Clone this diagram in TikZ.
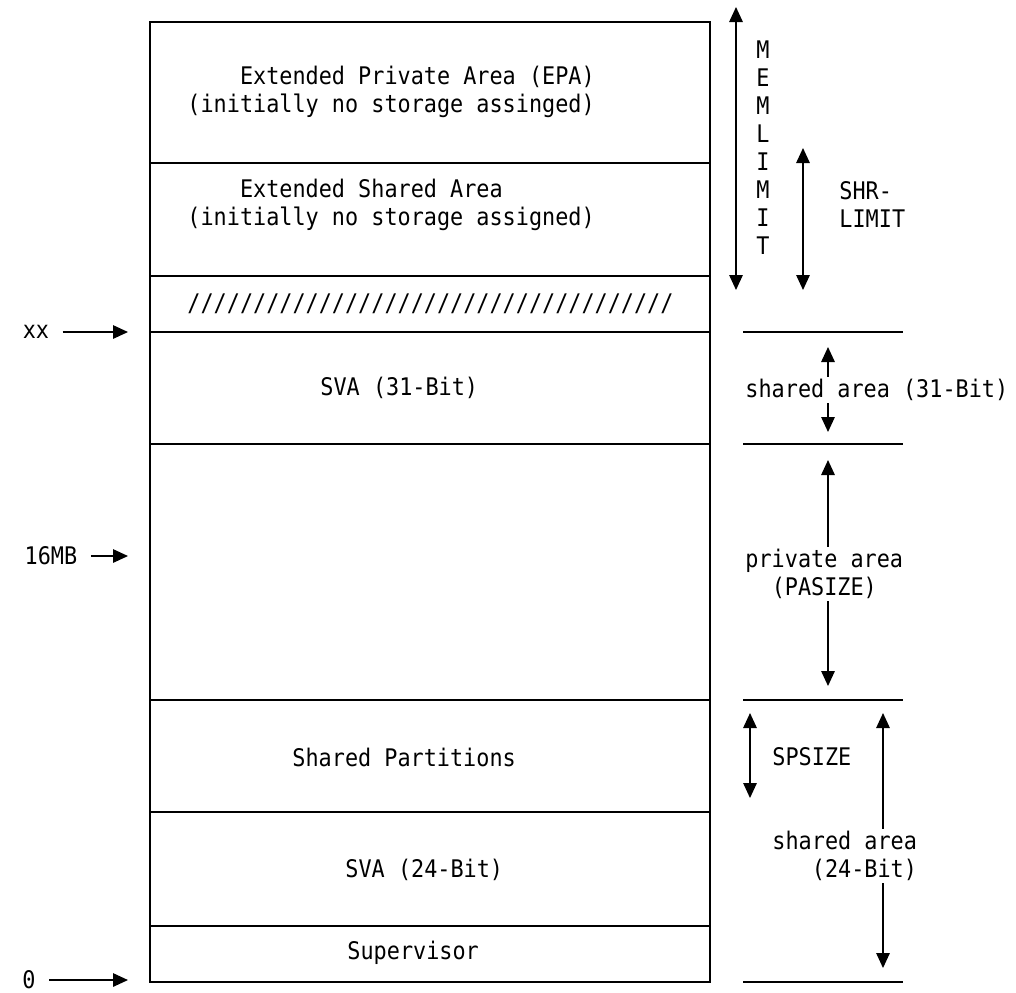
\documentclass[tikz,border=0pt]{standalone}
\usepackage{fontspec}
\setmonofont[FakeStretch=0.9]{DejaVu Sans Mono}
\usetikzlibrary{arrows.meta}

\begin{document}
\begin{tikzpicture}[x=0.02cm,y=-0.02cm,
  every node/.style={font=\ttfamily\fontsize{13.8}{15.93}\selectfont, inner sep=0pt},
  region/.style={draw, line width=0.8pt, minimum width=11.2cm},
  addr/.style={outer sep=0.27cm},
  arr/.tip={Triangle[length=0.3cm,width=0.27cm]},
  ptr/.style={-arr, line width=0.8pt},
  both/.style={arr-arr, line width=0.8pt},
  txt/.style={anchor=west, align=left, inner sep=1.2pt}]
\useasboundingbox (0,0) rectangle (1016,992);

\node[region, minimum height=2.82cm] (epa) at (430,92.5) {};
\node[region, minimum height=2.26cm] (esa) at (430,219.5) {};
\node[region, minimum height=1.12cm] (gap) at (430,304) {};
\node[region, minimum height=2.24cm] (sva31) at (430,388) {};
\node[region, minimum height=5.12cm] (priv) at (430,572) {};
\node[region, minimum height=2.24cm] (shp) at (430,756) {};
\node[region, minimum height=2.28cm] (sva24) at (430,869) {};
\node[region, minimum height=1.12cm] (sup) at (430,954) {};

\node[txt] (tepa) at (185,92) {\hphantom{0000}Extended Private Area (EPA)\\(initially no storage assinged)};
\node[txt] (tesa) at (185,205) {\hphantom{0000}Extended Shared Area\\(initially no storage assigned)};
\node[txt] (tgap) at (185,304) {/////////////////////////////////////};
\node[txt] (tsva31) at (318,388) {SVA (31-Bit)};
\node[txt] (tshp) at (290,757) {Shared Partitions};
\node[txt] (tsva24) at (343,870) {SVA (24-Bit)};
\node[txt] (tsup) at (345,953) {Supervisor};

\node[addr] (xx) at (36,332) {xx};
\node[addr] (mb) at (51,556) {16MB};
\node[addr] (zero) at (29,980) {0};
\coordinate (pxx) at (128,332);
\coordinate (pmb) at (128,556);
\coordinate (pzero) at (128,980);
\draw[ptr] (xx) -- (pxx);
\draw[ptr] (mb) -- (pmb);
\draw[ptr] (zero) -- (pzero);

\node[align=center] (mem) at (763,148) {M\\E\\M\\L\\I\\M\\I\\T};
\node[txt] (shr) at (837,204) {SHR-\\LIMIT};
\draw[both] (736,7) -- (736,290);
\draw[both] (803,148) -- (803,290);

\foreach \y in {332,444,700,982}
  \draw[line width=0.8pt] (743,\y) -- (903,\y);

\node[txt] (sa31) at (743,390) {shared area (31-Bit)};
\node[txt] (pa) at (743,574) {private area\\\hphantom{00}(PASIZE)};
\node[txt] (sps) at (770,757) {SPSIZE};
\node[txt] (sa24) at (770,856) {shared area\\\hphantom{000}(24-Bit)};

\coordinate (u31) at (828,347);
\coordinate (d31) at (828,432);
\coordinate (upa) at (828,460);
\coordinate (dpa) at (828,686);
\coordinate (u24) at (883,713);
\coordinate (d24) at (883,968);
\draw[ptr] (sa31.north -| u31) -- (u31);
\draw[ptr] (sa31.south -| d31) -- (d31);
\draw[ptr] (pa.north -| upa) -- (upa);
\draw[ptr] (pa.south -| dpa) -- (dpa);
\draw[ptr] (sa24.north -| u24) -- (u24);
\draw[ptr] (sa24.south -| d24) -- (d24);
\draw[both] (750,713) -- (750,798);
\end{tikzpicture}
\end{document}
